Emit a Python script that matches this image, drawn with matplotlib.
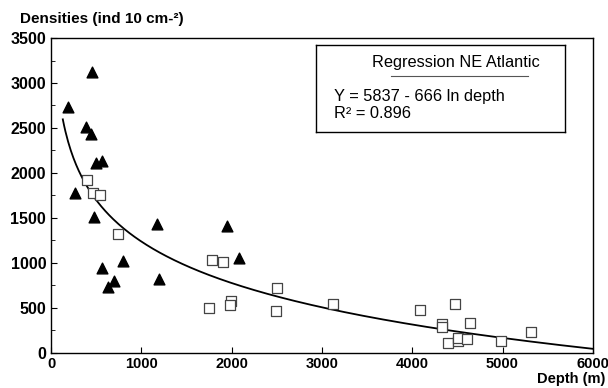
import matplotlib
matplotlib.use("Agg")
import matplotlib.pyplot as plt
import numpy as np

plt.rcParams["font.family"] = ["Liberation Sans", "DejaVu Sans"]

# triangles (filled)
tri_depth = [450, 190, 390, 440, 495, 565, 262, 480, 561, 628, 701, 801, 1177, 1196, 1953, 2078]
tri_dens = [3119, 2730, 2508, 2430, 2108, 2130, 1778, 1511, 944, 733, 797, 1019, 1427, 819, 1408, 1056]

# squares (open)
sq_depth = [395, 468, 542, 745, 1786, 1908, 1751, 1989, 1981, 2500, 2486,
            3127, 4088, 4477, 4329, 4335, 4640, 4399, 4504, 4504, 4603, 4982, 5315]
sq_dens = [1919, 1774, 1752, 1319, 1027, 1004, 500, 578, 530, 716, 463,
           541, 471, 538, 320, 289, 333, 104, 133, 160, 149, 133, 233]

# regression Y = a - b ln(depth)
reg_a, reg_b = 5837, 666
reg_start, reg_end = 130, 6000

fig = plt.figure(figsize=(6.08, 3.88), dpi=100)
ax = fig.add_axes([0.084, 0.091, 0.891, 0.811])

x = np.linspace(reg_start, reg_end, 400)
ax.plot(x, reg_a - reg_b * np.log(x), color="black", lw=1.3)
ax.scatter(sq_depth, sq_dens, marker="s", s=42, facecolors="white",
           edgecolors="#444444", linewidths=0.9, zorder=3)
ax.scatter(tri_depth, tri_dens, marker="^", s=60, color="black", zorder=4)

ax.set_xlim(0, 6000)
ax.set_ylim(0, 3500)
ax.set_xticks(np.arange(0, 6001, 1000))
ax.set_yticks(np.arange(0, 3501, 500))
ax.set_yticks(np.arange(0, 3501, 250), minor=True)
ax.tick_params(axis="both", direction="in", length=4, labelsize=10.5)
ax.tick_params(axis="y", labelsize=11.5)
ax.tick_params(axis="x", pad=3)
ax.tick_params(axis="y", which="minor", direction="in", length=3)
for lab in ax.get_xticklabels() + ax.get_yticklabels():
    lab.set_fontweight("bold")
for s in ax.spines.values():
    s.set_linewidth(1.0)

fig.text(0.033, 0.94, "Densities (ind 10 cm-²)", fontsize=11, fontweight="bold")
fig.text(0.995, 0.004, "Depth (m)", fontsize=10.5, fontweight="bold", ha="right",
         va="bottom")

# regression box
bx = fig.add_axes([0.52, 0.66, 0.41, 0.225])
bx.set_xlim(0, 1)
bx.set_ylim(0, 1)
bx.set_xticks([])
bx.set_yticks([])
for s in bx.spines.values():
    s.set_linewidth(1.0)
bx.text(0.56, 0.80, "Regression NE Atlantic", fontsize=11.8, ha="center", va="center",
        transform=bx.transAxes)
bx.plot([0.3, 0.85], [0.64, 0.64], color="#555555", lw=0.8)
bx.text(0.07, 0.40, "Y = 5837 - 666 ln depth", fontsize=11.8, va="center",
        transform=bx.transAxes)
bx.text(0.07, 0.21, "R² = 0.896", fontsize=11.8, va="center", transform=bx.transAxes)

fig.savefig("out.png", dpi=100)
